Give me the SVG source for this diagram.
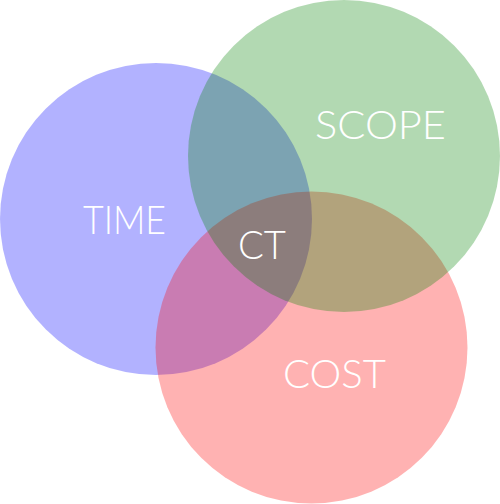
<svg xmlns="http://www.w3.org/2000/svg" width="500" height="504" viewBox="0 0 500 504">
<style>
.c{opacity:0.3}
.t{fill:#ffffff;font-family:"Lato","Open Sans","Liberation Sans",sans-serif;font-weight:300;font-size:39px;text-anchor:middle}
</style>
<rect width="500" height="504" fill="#ffffff"/>
<g id="time">
<circle class="c" cx="156" cy="219" r="156" fill="#0000ff"/>
</g>
<g id="cost">
<circle class="c" cx="311.5" cy="347.5" r="156" fill="#ff0000"/>
</g>
<g id="scope">
<circle class="c" cx="344" cy="156" r="156" fill="#008000"/>
</g>
<g id="labels">
<text class="t" x="124.5" y="234" textLength="83" lengthAdjust="spacingAndGlyphs">TIME</text>
<text class="t" x="380.5" y="139" textLength="131" lengthAdjust="spacingAndGlyphs">SCOPE</text>
<text class="t" x="262" y="259" textLength="48" lengthAdjust="spacingAndGlyphs">CT</text>
<text class="t" x="334.5" y="388" textLength="103" lengthAdjust="spacingAndGlyphs">COST</text>
</g>
</svg>
